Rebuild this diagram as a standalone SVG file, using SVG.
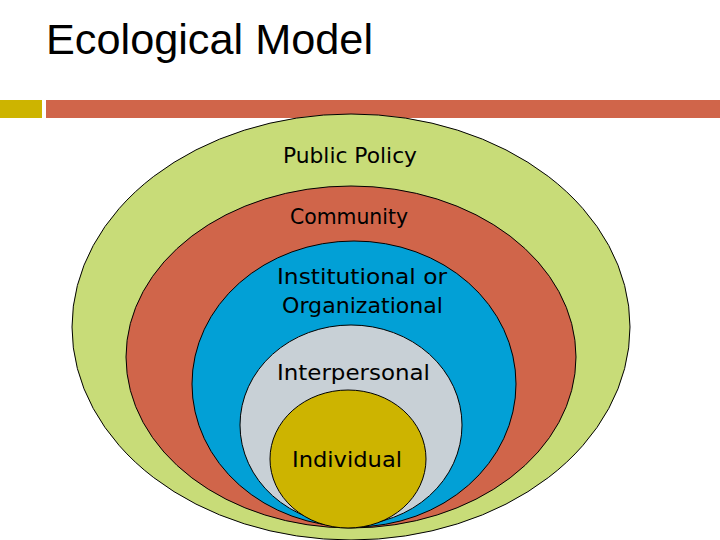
<svg xmlns="http://www.w3.org/2000/svg" width="720" height="540" viewBox="0 0 720 540">
<style>
.title{font-family:"Liberation Sans",Arial,sans-serif;font-size:43px;fill:#000}
.lbl{font-family:"DejaVu Sans","Liberation Sans",sans-serif;font-size:21px;fill:#000}
.ring{stroke:#000;stroke-width:1}
</style>
<rect width="720" height="540" fill="#fff"/>
<text class="title" x="46" y="54" textLength="327" lengthAdjust="spacingAndGlyphs">Ecological Model</text>
<rect x="0" y="100" width="42" height="18" fill="#CDB400"/>
<rect x="46" y="100" width="674" height="18" fill="#D0654A"/>
<g id="public-policy">
<ellipse class="ring" cx="351" cy="327" rx="279" ry="213" fill="#C8DC78"/>
<text class="lbl" x="283" y="163" textLength="134" lengthAdjust="spacingAndGlyphs">Public Policy</text>
</g>
<g id="community">
<ellipse class="ring" cx="351" cy="357" rx="225" ry="171" fill="#D0654A"/>
<text class="lbl" x="290" y="224" textLength="118" lengthAdjust="spacingAndGlyphs">Community</text>
</g>
<g id="institutional">
<ellipse class="ring" cx="354" cy="384" rx="162" ry="143" fill="#02A0D6"/>
<text class="lbl" x="277" y="284" textLength="170" lengthAdjust="spacingAndGlyphs">Institutional or</text>
<text class="lbl" x="282" y="313" textLength="161" lengthAdjust="spacingAndGlyphs">Organizational</text>
</g>
<g id="interpersonal">
<ellipse class="ring" cx="351" cy="425" rx="111" ry="100" fill="#C8D0D6"/>
<text class="lbl" x="277" y="380" textLength="153" lengthAdjust="spacingAndGlyphs">Interpersonal</text>
</g>
<g id="individual">
<ellipse class="ring" cx="348" cy="459" rx="78" ry="69" fill="#CDB400"/>
<text class="lbl" x="292" y="467" textLength="110" lengthAdjust="spacingAndGlyphs">Individual</text>
</g>
</svg>
